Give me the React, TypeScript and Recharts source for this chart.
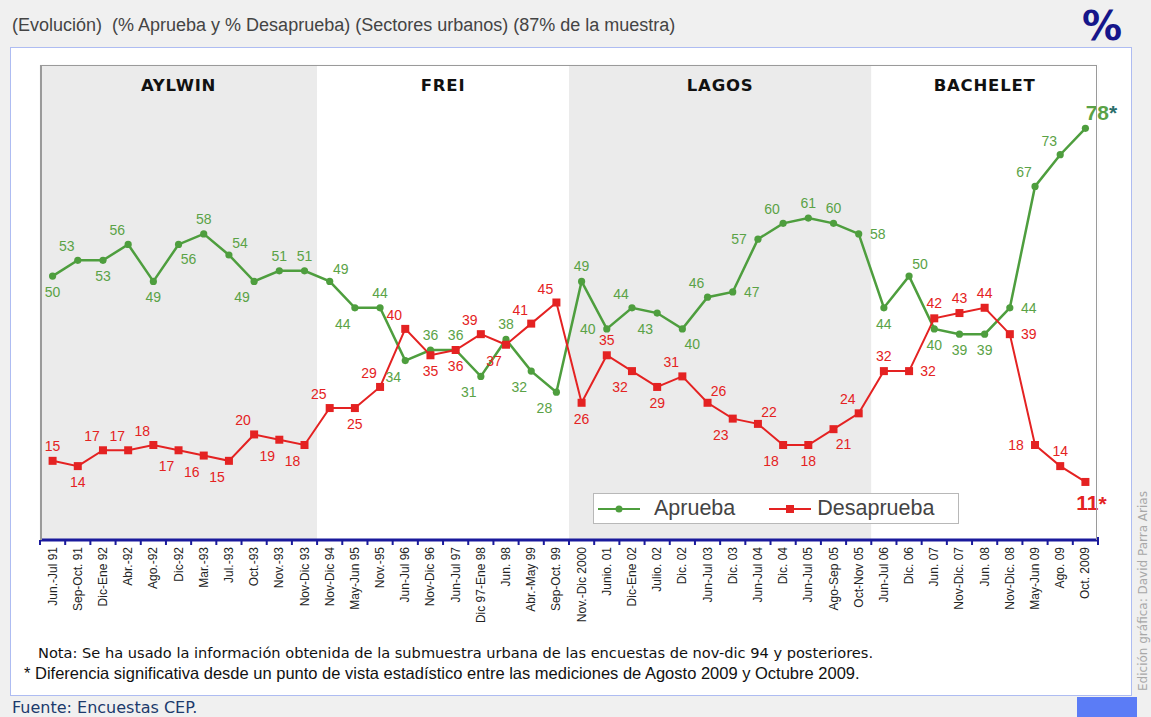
import React from 'react';
import { LineChart, Line, XAxis, YAxis, CartesianGrid, ReferenceArea, Legend, LabelList } from 'recharts';

const categories = [
  'Jun.-Jul 91', 'Sep-Oct. 91', 'Dic-Ene 92', 'Abr.-92', 'Ago.-92', 'Dic-92', 'Mar.-93', 'Jul.-93', 'Oct.-93', 'Nov.-93', 'Nov-Dic 93',
  'Nov-Dic 94', 'May-Jun 95', 'Nov.-95', 'Jun-Jul 96', 'Nov-Dic 96', 'Jun-Jul 97', 'Dic 97-Ene 98', 'Jun. 98', 'Abr.-May 99', 'Sep-Oct. 99',
  'Nov.-Dic 2000', 'Junio. 01', 'Dic-Ene 02', 'Julio. 02', 'Dic. 02', 'Jun-Jul 03', 'Dic. 03', 'Jun-Jul 04', 'Dic. 04', 'Jun-Jul 05', 'Ago-Sep 05', 'Oct-Nov 05',
  'Jun-Jul 06', 'Dic. 06', 'Jun. 07', 'Nov-Dic. 07', 'Jun. 08', 'Nov-Dic. 08', 'May-Jun 09', 'Ago. 09', 'Oct. 2009',
];

const aprueba = [
  50, 53, 53, 56, 49, 56, 58, 54, 49, 51, 51,
  49, 44, 44, 34, 36, 36, 31, 38, 32, 28,
  49, 40, 44, 43, 40, 46, 47, 57, 60, 61, 60, 58,
  44, 50, 40, 39, 39, 44, 67, 73, 78,
];

const desaprueba = [
  15, 14, 17, 17, 18, 17, 16, 15, 20, 19, 18,
  25, 25, 29, 40, 35, 36, 39, 37, 41, 45,
  26, 35, 32, 29, 31, 26, 23, 22, 18, 18, 21, 24,
  32, 32, 42, 43, 44, 39, 18, 14, 11,
];

const presidents = ['AYLWIN', 'FREI', 'LAGOS', 'BACHELET'];
const presidentStart = [0, 11, 21, 33];
const presidentEnd = [11, 21, 33, 42];

const gridValues = [0, 5, 10, 15, 20, 25, 30, 35, 40, 45, 50, 55, 60, 65, 70, 75, 80, 85, 90];

// label placement (layout only)
const apruebaLabelPos = [
  'b', 'tl', 'b', 'tl', 'b', 'br', 't', 'tr', 'bl', 't', 't',
  'tr', 'bl', 't', 'bl', 't', 't', 'bl', 't', 'bl', 'bl',
  't', 'l', 'tl', 'bl', 'br', 'tl', 'r', 'l', 'tl', 't', 't', 'r',
  'b', 'tr', 'b', 'b', 'b', 'r', 'tl', 'tl', 'big',
];
const desapruebaLabelPos = [
  't', 'b', 'tl', 'tl', 'tl', 'bl', 'bl', 'bl', 'tl', 'bl', 'bl',
  'tl', 'b', 'tl', 'tl', 'b', 'b', 'tl', 'bl', 'tl', 'tl',
  'b', 't', 'bl', 'b', 'tl', 'tr', 'bl', 'tr', 'bl', 'b', 'br', 'tl',
  't', 'r', 't', 't', 't', 'r', 'l', 't', 'big',
];

const W = 1151;
const H = 717;
const M_LEFT = 40;
const M_RIGHT = 53;
const M_TOP = 65;
const PLOT_BOTTOM = 540;
const AXIS_H = 100;
const PLOT_W = W - M_LEFT - M_RIGHT;
const STEP = PLOT_W / categories.length;
const HALF = STEP / 2;

const GREEN = '#4e9e3e';
const GREEN_TXT = '#5aa246';
const RED = '#e42222';
const AXIS_BLUE = '#1a1a9c';

const OFF: Record<string, [number, number]> = {
  t: [0, -15],
  b: [0, 16],
  tl: [-11, -14],
  tr: [11, -12],
  bl: [-12, 16],
  br: [10, 15],
  l: [-19, 0],
  r: [19, 0],
};

const data = categories.map((c, i) => ({ cat: c, idx: i, aprueba: aprueba[i], desaprueba: desaprueba[i] }));

const makeLabel = (placements: string[], color: string, starColor: string, bigOffset: [number, number]) => (props: any) => {
  const { x, y, value, index } = props;
  if (x == null || y == null) return null;
  const pos = placements[index];
  if (pos === 'big') {
    return (
      <text
        x={x + bigOffset[0]}
        y={y + bigOffset[1]}
        textAnchor="middle"
        dominantBaseline="central"
        fontFamily="'Liberation Sans', Arial, sans-serif"
        fontSize={21}
        fontWeight="bold"
        fill={color}
      >
        {value}
        <tspan fill={starColor}>*</tspan>
      </text>
    );
  }
  const [dx, dy] = OFF[pos] || [0, -14];
  return (
    <text
      x={x + dx}
      y={y + dy}
      textAnchor="middle"
      dominantBaseline="central"
      fontFamily="'Liberation Sans', Arial, sans-serif"
      fontSize={14}
      fill={color}
    >
      {value}
    </text>
  );
};

const AxisTick = (props: any) => {
  const { x, y, payload, index } = props;
  const isLast = index === categories.length - 1 || payload.value === categories[categories.length - 1];
  return (
    <g>
      <line x1={x - HALF} y1={y} x2={x - HALF} y2={y + 5} stroke={AXIS_BLUE} strokeWidth={2} />
      {isLast && <line x1={x + HALF} y1={y - 3} x2={x + HALF} y2={y + 5} stroke={AXIS_BLUE} strokeWidth={2} />}
      <text
        transform={`translate(${x},${y + 7}) rotate(-90)`}
        textAnchor="end"
        dominantBaseline="central"
        fontFamily="'Liberation Sans', Arial, sans-serif"
        fontSize={12}
        fill="#222"
      >
        {payload.value}
      </text>
    </g>
  );
};

const CircleDot = (props: any) => {
  const { cx, cy, index } = props;
  if (cx == null || cy == null) return null;
  return <circle key={`c${index}`} cx={cx} cy={cy} r={3.6} fill={GREEN} />;
};

const SquareDot = (props: any) => {
  const { cx, cy, index } = props;
  if (cx == null || cy == null) return null;
  return <rect key={`s${index}`} x={cx - 4} y={cy - 4} width={8} height={8} fill={RED} />;
};

const LegendContent = (props: any) => {
  const payload = props.payload || [];
  return (
    <div
      style={{
        width: 364,
        height: 29,
        background: '#fff',
        border: '1px solid #b8b8b8',
        display: 'flex',
        alignItems: 'center',
        fontFamily: "'Liberation Sans', Arial, sans-serif",
        fontSize: 21.5,
        color: '#444',
        boxSizing: 'content-box',
        whiteSpace: 'nowrap',
      }}
    >
      {payload.map((p: any, i: number) => (
        <div key={i} style={{ display: 'flex', alignItems: 'center', marginLeft: i === 0 ? 4 : 34 }}>
          <svg width={42} height={12} style={{ marginRight: i === 0 ? 14 : 6 }}>
            <line x1={0} y1={6} x2={42} y2={6} stroke={p.color} strokeWidth={2} />
            {i === 0 ? <circle cx={21} cy={6} r={3.5} fill={p.color} /> : <rect x={17} y={2} width={8} height={8} fill={p.color} />}
          </svg>
          <span>{p.value}</span>
        </div>
      ))}
    </div>
  );
};

export default function App() {
  return (
    <div
      style={{
        position: 'absolute',
        left: 0,
        top: 0,
        width: W,
        height: H,
        background: '#f0f0f0',
        overflow: 'hidden',
      }}
    >
      <div
        style={{
          position: 'absolute',
          left: 12,
          top: 14,
          fontFamily: "'Liberation Sans', Arial, sans-serif",
          fontSize: 18,
          lineHeight: '22px',
          color: '#444',
          whiteSpace: 'nowrap',
        }}
      >
        (Evolución)&nbsp; (% Aprueba y % Desaprueba) (Sectores urbanos) (87% de la muestra)
      </div>
      <div
        style={{
          position: 'absolute',
          left: 1082,
          top: 6,
          fontFamily: "'DejaVu Sans', Verdana, sans-serif",
          fontSize: 40,
          lineHeight: '40px',
          fontWeight: 'bold',
          color: '#16168a',
        }}
      >
        %
      </div>
      <div
        style={{
          position: 'absolute',
          left: 10,
          top: 47,
          width: 1120,
          height: 647,
          background: '#fff',
          border: '1px solid #aebcf2',
        }}
      />
      <div style={{ position: 'absolute', left: 0, top: 0 }}>
        <LineChart
          width={W}
          height={H}
          data={data}
          margin={{ top: M_TOP, left: M_LEFT, right: M_RIGHT, bottom: H - PLOT_BOTTOM - AXIS_H }}
        >
          <XAxis
            dataKey="cat"
            interval={0}
            height={AXIS_H}
            padding={{ left: HALF, right: HALF }}
            tickLine={false}
            tickSize={0}
            tickMargin={0}
            axisLine={{ stroke: AXIS_BLUE, strokeWidth: 3 }}
            tick={<AxisTick />}
          />
          <XAxis
            xAxisId="idx"
            dataKey="idx"
            type="number"
            domain={[0, categories.length]}
            ticks={[...categories.map((_, i) => i), categories.length]}
            allowDataOverflow
            hide
          />
          <YAxis domain={[0, 90]} ticks={gridValues} hide />
          {presidents.map((p, i) => (
            <ReferenceArea
              key={p}
              xAxisId="idx"
              x1={presidentStart[i]}
              x2={presidentEnd[i]}
              y1={0}
              y2={90}
              fill={i % 2 === 0 ? '#ebebeb' : '#ffffff'}
              fillOpacity={1}
              stroke="none"
              ifOverflow="extendDomain"
              label={{
                value: p,
                position: 'insideTop',
                offset: 14,
                fill: '#111',
                fontSize: 16.5,
                fontWeight: 'bold',
                letterSpacing: 0.8,
                fontFamily: "'DejaVu Sans', Verdana, sans-serif",
              }}
            />
          ))}
          <CartesianGrid xAxisId="idx" stroke="#f7f7f7" strokeWidth={1} />
          <Line
            name="Aprueba"
            dataKey="aprueba"
            stroke={GREEN}
            strokeWidth={2.5}
            dot={<CircleDot />}
            activeDot={false}
            isAnimationActive={false}
          >
            <LabelList dataKey="aprueba" content={makeLabel(apruebaLabelPos, GREEN_TXT, '#2a6e6a', [16, -16])} />
          </Line>
          <Line
            name="Desaprueba"
            dataKey="desaprueba"
            stroke={RED}
            strokeWidth={2}
            dot={<SquareDot />}
            activeDot={false}
            isAnimationActive={false}
          >
            <LabelList dataKey="desaprueba" content={makeLabel(desapruebaLabelPos, RED, RED, [6, 21])} />
          </Line>
          <Legend
            layout="horizontal"
            verticalAlign="middle"
            align="center"
            wrapperStyle={{ left: 593, top: 493, width: 366, height: 31, right: 'auto', bottom: 'auto' }}
            content={<LegendContent />}
          />
        </LineChart>
      </div>
      <div
        style={{
          position: 'absolute',
          left: M_LEFT,
          top: M_TOP,
          width: PLOT_W - 1,
          height: PLOT_BOTTOM - M_TOP,
          borderTop: '1px solid #9a9a9a',
          borderRight: '1px solid #9a9a9a',
          borderLeft: '2px solid #9a9a9a',
          boxSizing: 'border-box',
          pointerEvents: 'none',
        }}
      />
      <div
        style={{
          position: 'absolute',
          left: 38,
          top: 644,
          fontFamily: "'DejaVu Sans', Verdana, sans-serif",
          fontSize: 14.6,
          lineHeight: '18px',
          color: '#111',
          whiteSpace: 'nowrap',
        }}
      >
        Nota: Se ha usado la información obtenida de la submuestra urbana de las encuestas de nov-dic 94 y posteriores.
      </div>
      <div
        style={{
          position: 'absolute',
          left: 24,
          top: 663,
          fontFamily: "'Liberation Sans', Arial, sans-serif",
          fontSize: 16.5,
          lineHeight: '20px',
          color: '#111',
          whiteSpace: 'nowrap',
        }}
      >
        * Diferencia significativa desde un punto de vista estadístico entre las mediciones de Agosto 2009 y Octubre 2009.
      </div>
      <div
        style={{
          position: 'absolute',
          left: 12,
          top: 698,
          fontFamily: "'DejaVu Sans', Verdana, sans-serif",
          fontSize: 16,
          lineHeight: '19px',
          color: '#1c3a6c',
          whiteSpace: 'nowrap',
        }}
      >
        Fuente: Encuestas CEP.
      </div>
      <div
        style={{
          position: 'absolute',
          left: 1077,
          top: 697,
          width: 60,
          height: 20,
          background: '#5b7cf6',
        }}
      />
      <div
        style={{
          position: 'absolute',
          left: 1137,
          top: 691,
          transform: 'rotate(-90deg)',
          transformOrigin: '0 0',
          fontFamily: "'DejaVu Sans', Verdana, sans-serif",
          fontSize: 12,
          color: '#a8a8a8',
          whiteSpace: 'nowrap',
          lineHeight: '13px',
        }}
      >
        Edición gráfica: David Parra Arias
      </div>
    </div>
  );
}
